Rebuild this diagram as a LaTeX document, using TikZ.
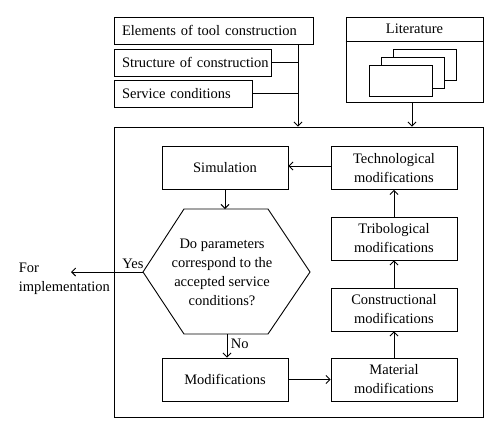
\documentclass[tikz,border=0pt]{standalone}
\usepackage{fontspec}
\setmainfont{Liberation Serif}
\usepackage{tikz}
\usetikzlibrary{arrows.meta,positioning,calc}
\tikzset{
  >={Straight Barb[length=4pt,width=8pt]},
  every picture/.append style={line width=0.9pt},
  every node/.append style={font=\fontsize{14.5}{19}\selectfont},
}
\tikzset{
  box/.style={draw, align=center, minimum width=126pt, minimum height=43pt, inner sep=2pt},
  inbox/.style={draw, align=left, minimum height=27pt, inner xsep=8pt, inner ysep=0pt},
  arrow/.style={->},
  sheet/.style={draw, fill=white}
}

\begin{document}
\begin{tikzpicture}[x=1pt,y=-1pt]
\useasboundingbox (0,0) rectangle (500,434);

\node[inbox, text width=183pt] (elements) at (213.5,30.5) {\mbox{Elements of tool construction}};
\node[inbox, text width=141pt] (structure) at (192.5,62.5) {\mbox{Structure of construction}};
\node[inbox, text width=122pt] (service) at (183,93.5) {\mbox{Service conditions}};

\node[draw, minimum width=137pt, minimum height=85pt] (literature) at (414.5,59.5) {};
\node (littitle) at (414.5,29) {Literature};
\draw (literature.west |- 0,41) -- (literature.east |- 0,41);
\foreach \i in {2,1,0}
  \draw[sheet] ({369+12*\i},{65-8*\i}) rectangle ++(63,31);

\node[draw, minimum width=369pt, minimum height=290pt] (frame) at (298.5,272) {};
\coordinate (drop) at (frame.north -| 298,0);

\draw[arrow] (elements.south -| drop) -- (drop);
\draw (structure.east) -- (structure.east -| drop);
\draw (service.east) -- (service.east -| drop);
\draw[arrow] (literature.south -| 412,0) -- (frame.north -| 412,0);

\node[box] (sim) at (225,168) {Simulation};
\node[box] (tech) at (394,168) {Technological\\modifications};
\node[box] (trib) at (394,238.5) {Tribological\\modifications};
\node[box] (cons) at (394,309.5) {Constructional\\modifications};
\node[box] (mat) at (394,379.5) {Material\\modifications};
\node[box] (mods) at (225,379.5) {Modifications};

\draw (184,209) -- (268,209) -- (310,272) -- (268,334) -- (184,334) -- (143,272) -- cycle;
\node[align=center] (question) at (222,272) {Do parameters\\correspond to the\\accepted service\\conditions?};
\coordinate (hexT) at (225,209);
\coordinate (hexB) at (227,334);
\coordinate (hexL) at (143,272);
\coordinate (impl) at (71,272);
\node[align=left, anchor=west] (forimpl) at (15,279) {For\\implementation};

\draw[arrow] (sim) -- (hexT);
\draw[arrow] (hexB) -- node[right, pos=0.4] {No} (hexB |- mods.north);
\draw[arrow] (hexL) -- node[above, pos=0.14] {Yes} (impl);
\draw[arrow] (tech.west |- 0,166) -- (sim.east |- 0,166);
\draw[arrow] (mods) -- (mat);
\draw[arrow] (mat) -- (cons);
\draw[arrow] (cons) -- (trib);
\draw[arrow] (trib) -- (tech);
\end{tikzpicture}
\end{document}
